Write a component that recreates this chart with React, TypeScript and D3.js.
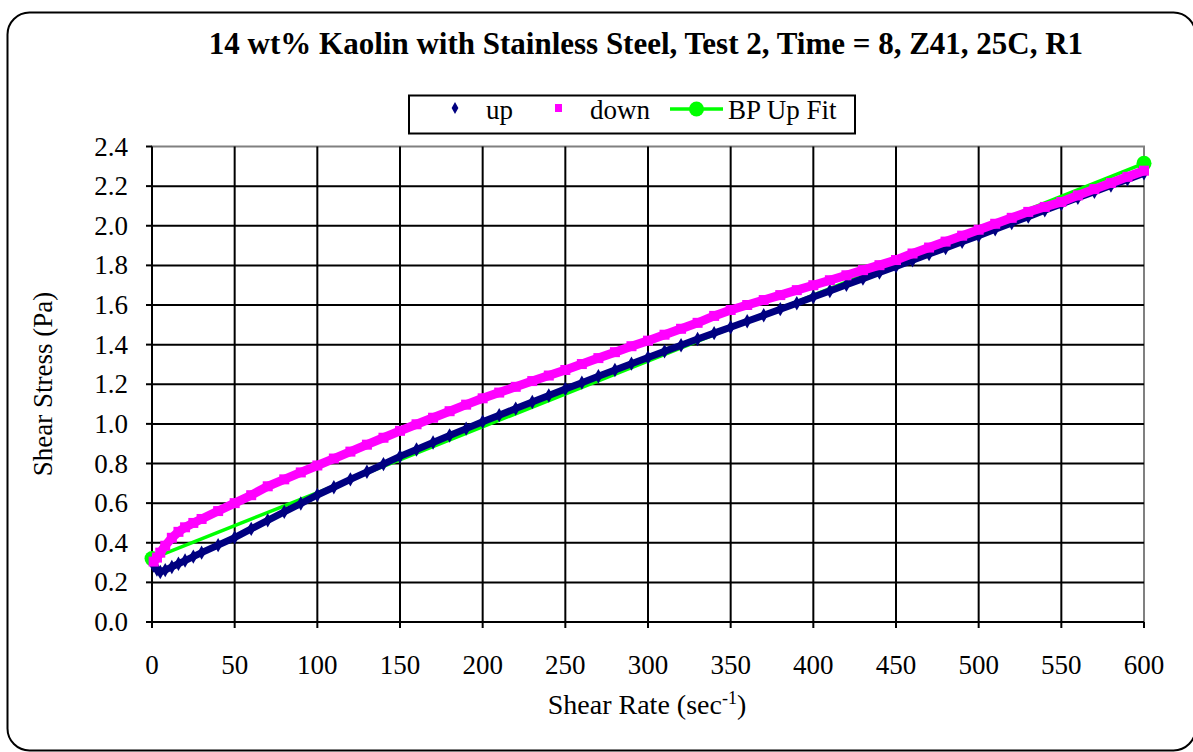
import React from "react";
import * as d3 from "d3";

// shear rate readings (1/s) shared by the up and down sweeps
const shearRate = [
  1, 3, 5, 8, 12, 16, 20, 25, 30, 40, 50, 60, 70, 80, 90, 100, 110, 120, 130,
  140, 150, 160, 170, 180, 190, 200, 210, 220, 230, 240, 250, 260, 270, 280,
  290, 300, 310, 320, 330, 340, 350, 360, 370, 380, 390, 400, 410, 420, 430,
  440, 450, 460, 470, 480, 490, 500, 510, 520, 530, 540, 550, 560, 570, 580,
  590, 600,
];

const upStress = [
  0.285, 0.265, 0.252, 0.262, 0.278, 0.294, 0.31, 0.33, 0.35, 0.388, 0.426,
  0.47, 0.513, 0.556, 0.598, 0.641, 0.68, 0.72, 0.758, 0.797, 0.836, 0.871,
  0.906, 0.941, 0.976, 1.011, 1.044, 1.077, 1.11, 1.143, 1.176, 1.208, 1.24,
  1.272, 1.304, 1.335, 1.366, 1.397, 1.428, 1.458, 1.488, 1.518, 1.548, 1.579,
  1.609, 1.64, 1.671, 1.702, 1.733, 1.764, 1.795, 1.826, 1.857, 1.888, 1.919,
  1.95, 1.982, 2.014, 2.046, 2.078, 2.11, 2.141, 2.172, 2.203, 2.234, 2.265,
];

const downStress = [
  0.305, 0.325, 0.35, 0.385, 0.425, 0.455, 0.478, 0.5, 0.52, 0.56, 0.6, 0.64,
  0.685, 0.72, 0.755, 0.79, 0.825, 0.86, 0.895, 0.93, 0.965, 0.998, 1.031,
  1.064, 1.097, 1.129, 1.158, 1.187, 1.216, 1.244, 1.272, 1.302, 1.332, 1.362,
  1.392, 1.42, 1.45, 1.48, 1.51, 1.545, 1.575, 1.6, 1.625, 1.65, 1.675, 1.7,
  1.725, 1.75, 1.776, 1.801, 1.827, 1.86, 1.89, 1.92, 1.95, 1.98, 2.01, 2.04,
  2.07, 2.095, 2.12, 2.153, 2.185, 2.216, 2.247, 2.278,
];

// Bingham plastic fit of the up curve
const fitRate = [0, 600];
const fitStress = [0.32, 2.315];

const xTicks = [0, 50, 100, 150, 200, 250, 300, 350, 400, 450, 500, 550, 600];
const yTicks = [0, 0.2, 0.4, 0.6, 0.8, 1.0, 1.2, 1.4, 1.6, 1.8, 2.0, 2.2, 2.4];

const title = "14 wt% Kaolin with Stainless Steel, Test 2, Time = 8, Z41, 25C, R1";

const W = 1193;
const H = 752;
const font = "'Liberation Serif', 'Times New Roman', serif";

const App: React.FC = () => {
  const x = d3.scaleLinear().domain([0, 600]).range([152, 1144]);
  const y = d3.scaleLinear().domain([0, 2.4]).range([622, 146.5]);

  const pts = (xs: number[], ys: number[]) => xs.map((r, i) => [r, ys[i]] as [number, number]);
  const line = d3
    .line<[number, number]>()
    .x((d) => x(d[0]))
    .y((d) => y(d[1]));

  const up = pts(shearRate, upStress);
  const down = pts(shearRate, downStress);
  const fit = pts(fitRate, fitStress);

  const diamond = d3.symbol().type(d3.symbolDiamond).size(60)();
  const legendDiamond = d3.symbol().type(d3.symbolDiamond).size(40)();

  return (
    <svg width={W} height={H} style={{ position: "absolute", left: 0, top: 0 }} fontFamily={font}>
      <rect x={0} y={0} width={W} height={H} fill="#fff" />
      <rect x={7.5} y={12.5} width={1188} height={738} rx={22} fill="#fff" stroke="#000" strokeWidth={2} />

      <text x={646} y={54} textAnchor="middle" fontSize={31} fontWeight="bold">
        {title}
      </text>

      {/* legend */}
      <rect x={409} y={95.5} width={446} height={38} fill="#fff" stroke="#000" strokeWidth={2} />
      <path d={legendDiamond} transform="translate(455,108)" fill="#000080" />
      <text x={486} y={119} fontSize={27}>up</text>
      <rect x={555} y={104} width={7} height={8} fill="#ff00ff" />
      <text x={590} y={119} fontSize={27}>down</text>
      <line x1={670} x2={723} y1={109} y2={109} stroke="#00ff00" strokeWidth={3.5} />
      <circle cx={696.5} cy={109} r={7.5} fill="#00ff00" />
      <text x={728} y={119} fontSize={27}>BP Up Fit</text>

      {/* plot area */}
      <rect x={x(0)} y={y(2.4)} width={x(600) - x(0)} height={y(0) - y(2.4)} fill="#fff" stroke="#808080" strokeWidth={2} />
      {xTicks.slice(1, -1).map((t) => (
        <line key={"gx" + t} x1={x(t)} x2={x(t)} y1={y(2.4)} y2={y(0)} stroke="#000" strokeWidth={2} />
      ))}
      {yTicks.slice(1, -1).map((t) => (
        <line key={"gy" + t} x1={x(0)} x2={x(600)} y1={y(t)} y2={y(t)} stroke="#000" strokeWidth={2} />
      ))}
      <line x1={x(0)} x2={x(0)} y1={y(2.4)} y2={y(0)} stroke="#000" strokeWidth={2} />
      <line x1={x(0)} x2={x(600)} y1={y(0)} y2={y(0)} stroke="#000" strokeWidth={2} />
      {xTicks.map((t) => (
        <g key={"xt" + t}>
          <line x1={x(t)} x2={x(t)} y1={y(0)} y2={y(0) + 6} stroke="#000" strokeWidth={2} />
          <text x={x(t)} y={674} textAnchor="middle" fontSize={27}>{t}</text>
        </g>
      ))}
      {yTicks.map((t) => (
        <g key={"yt" + t}>
          <line x1={x(0) - 6} x2={x(0)} y1={y(t)} y2={y(t)} stroke="#000" strokeWidth={2} />
          <text x={128} y={y(t) + 9} textAnchor="end" fontSize={27}>{t.toFixed(1)}</text>
        </g>
      ))}

      {/* series */}
      <path d={line(fit) ?? ""} fill="none" stroke="#00ff00" strokeWidth={3.5} />
      {fit.map((d, i) => (
        <circle key={"f" + i} cx={x(d[0])} cy={y(d[1])} r={7.5} fill="#00ff00" />
      ))}
      <path d={line(up) ?? ""} fill="none" stroke="#000080" strokeWidth={7} />
      {up.map((d, i) => (
        <path key={"u" + i} d={diamond} transform={`translate(${x(d[0])},${y(d[1])})`} fill="#000080" />
      ))}
      <path d={line(down) ?? ""} fill="none" stroke="#ff00ff" strokeWidth={9} />
      {down.map((d, i) => (
        <rect key={"d" + i} x={x(d[0]) - 5} y={y(d[1]) - 5} width={10} height={10} fill="#ff00ff" />
      ))}

      {/* axis titles */}
      <text x={647} y={714} textAnchor="middle" fontSize={28}>
        Shear Rate (sec<tspan fontSize={18} dy={-10}>-1</tspan>
        <tspan dy={10}>)</tspan>
      </text>
      <text transform="translate(52,384) rotate(-90)" textAnchor="middle" fontSize={27}>
        Shear Stress (Pa)
      </text>
    </svg>
  );
};

export default App;
